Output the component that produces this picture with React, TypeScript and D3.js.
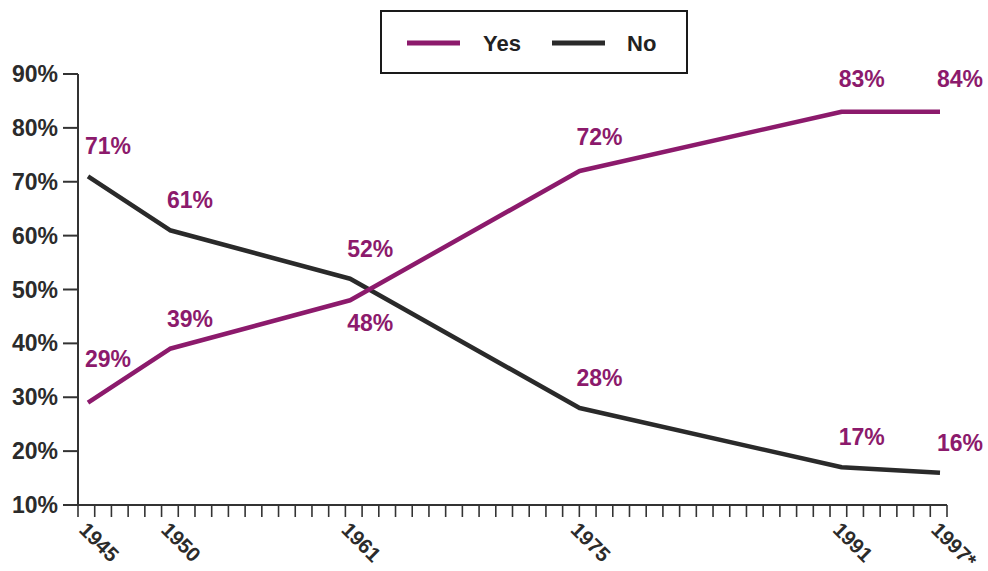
import React from "react";
import * as d3 from "d3";

const years = [1945, 1950, 1961, 1975, 1991, 1997];
const yearLabels = ["1945", "1950", "1961", "1975", "1991", "1997*"];
const yesValues = [29, 39, 48, 72, 83, 83];
const noValues = [71, 61, 52, 28, 17, 16];
const yesLabels = ["29%", "39%", "48%", "72%", "83%", "84%"];
const noLabels = ["71%", "61%", "52%", "28%", "17%", "16%"];
const yTicks = [10, 20, 30, 40, 50, 60, 70, 80, 90];
const seriesNames = ["Yes", "No"];

const PURPLE = "#8c1a6c";
const DARK = "#2a2a2a";
const FONT = "'Liberation Sans', Arial, Helvetica, sans-serif";

export default function App() {
  const W = 988;
  const H = 571;
  const axisLeft = 78;
  const axisRight = 947;
  const axisBottom = 505;

  const y = d3.scaleLinear().domain([10, 90]).range([axisBottom, 74]);
  const tickX = d3.scaleLinear().domain([1945, 1997]).range([axisLeft, axisRight]);
  const lineX = d3.scaleLinear().domain([1945, 1997]).range([88, 940]);

  const line = d3
    .line<[number, number]>()
    .x((d) => lineX(d[0]))
    .y((d) => y(d[1]))
    .curve(d3.curveLinear);

  const yesPts: [number, number][] = years.map((yr, i) => [yr, yesValues[i]]);
  const noPts: [number, number][] = years.map((yr, i) => [yr, noValues[i]]);

  const minorYears = d3.range(1945, 1998);

  const yesDy = (i: number) => {
    if (i === 0) return -36;
    if (i === 2) return 31;
    if (i === 3) return -26;
    if (i >= 4) return -25;
    return -22;
  };
  const noDy = (_i: number) => -22;

  return (
    <svg
      width={W}
      height={H}
      viewBox={`0 0 ${W} ${H}`}
      style={{ position: "fixed", left: 0, top: 0, background: "#fff" }}
      fontFamily={FONT}
    >
      <rect x={0} y={0} width={W} height={H} fill="#ffffff" />

      {/* Legend */}
      <rect x={381} y={11} width={306} height={62} fill="none" stroke="#1a1a1a" strokeWidth={2} />
      <line x1={407} x2={460} y1={43} y2={43} stroke={PURPLE} strokeWidth={5} />
      <text x={483} y={51} fontSize={22} fontWeight={700} fill="#222">
        {seriesNames[0]}
      </text>
      <line x1={552} x2={605} y1={43} y2={43} stroke={DARK} strokeWidth={5} />
      <text x={627} y={51} fontSize={22} fontWeight={700} fill="#222">
        {seriesNames[1]}
      </text>

      {/* Y axis */}
      <line x1={axisLeft} x2={axisLeft} y1={y(90)} y2={axisBottom + 1} stroke="#333" strokeWidth={2} />
      {yTicks.map((t) => (
        <g key={t}>
          <line x1={63} x2={axisLeft} y1={y(t)} y2={y(t)} stroke="#333" strokeWidth={2} />
          <text x={58} y={y(t) + 8} textAnchor="end" fontSize={23} fontWeight={700} fill="#2b2b2b">
            {t}%
          </text>
        </g>
      ))}

      {/* X axis */}
      <line x1={axisLeft} x2={axisRight} y1={axisBottom} y2={axisBottom} stroke="#333" strokeWidth={2} />
      {minorYears.map((yr) => (
        <line
          key={yr}
          x1={tickX(yr)}
          x2={tickX(yr)}
          y1={axisBottom}
          y2={axisBottom + 12}
          stroke="#333"
          strokeWidth={1.6}
        />
      ))}
      {years.map((yr, i) => (
        <text
          key={yr}
          transform={`translate(${lineX(yr) - 10},${531}) rotate(45)`}
          fontSize={20.5}
          fontWeight={700}
          fill="#2b2b2b"
        >
          {yearLabels[i]}
        </text>
      ))}

      {/* Lines */}
      <path d={line(noPts) || ""} fill="none" stroke={DARK} strokeWidth={4.5} strokeLinejoin="round" />
      <path d={line(yesPts) || ""} fill="none" stroke={PURPLE} strokeWidth={4.5} strokeLinejoin="round" />

      {/* Value labels */}
      {years.map((yr, i) => (
        <text
          key={"y" + yr}
          x={lineX(yr) - 3}
          y={y(yesValues[i]) + yesDy(i)}
          fontSize={23}
          fontWeight={700}
          fill={PURPLE}
        >
          {yesLabels[i]}
        </text>
      ))}
      {years.map((yr, i) => (
        <text
          key={"n" + yr}
          x={lineX(yr) - 3}
          y={y(noValues[i]) + noDy(i)}
          fontSize={23}
          fontWeight={700}
          fill={PURPLE}
        >
          {noLabels[i]}
        </text>
      ))}
    </svg>
  );
}
